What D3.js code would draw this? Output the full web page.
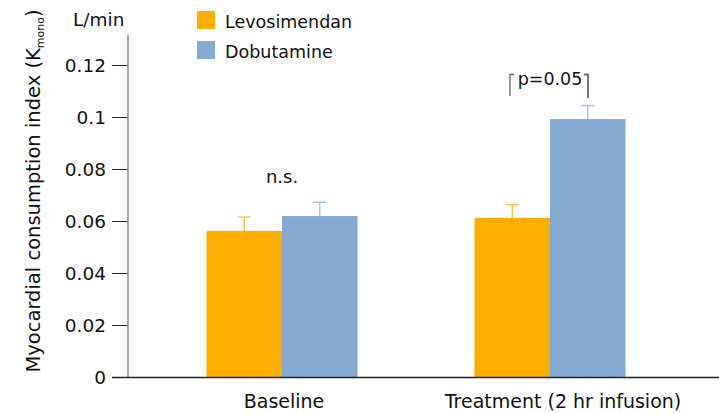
<!DOCTYPE html>
<html>
<head>
<meta charset="utf-8">
<script src="https://cdn.jsdelivr.net/npm/d3@7"></script>
<style>
  body { margin: 0; background: #fff; }
  svg text { font-family: "DejaVu Sans", sans-serif; fill: #111; }
</style>
</head>
<body>
<svg id="chart" width="719" height="413"></svg>
<script>
// Groups, treatments and measured values (mean and upper SD)
const groups = ["Baseline", "Treatment (2 hr infusion)"];
const seriesNames = ["Levosimendan", "Dobutamine"];
const levosimendan = [0.0562, 0.0612];
const dobutamine = [0.0619, 0.0992];
const levosimendanErr = [0.0053, 0.0051];
const dobutamineErr = [0.0053, 0.0052];
const yTicks = [0, 0.02, 0.04, 0.06, 0.08, 0.1, 0.12];
const yTickLabels = ["0", "0.02", "0.04", "0.06", "0.08", "0.1", "0.12"];
const colors = ["#FFAE00", "#82AAD2"];
const errColors = ["#FFC247", "#A3C2E3"];

const svg = d3.select("#chart");
const W = 719;

const y = d3.scaleLinear().domain([0, 0.12]).range([377, 65]);
const x0 = d3.scalePoint().domain(groups).range([282, 550]);
const groupWidth = 151;
const x1 = d3.scaleBand().domain(seriesNames).range([-groupWidth / 2, groupWidth / 2]);

const seriesVals = [levosimendan, dobutamine];
const seriesErr = [levosimendanErr, dobutamineErr];

// Bars with upper error whiskers
seriesNames.forEach((s, si) => {
  svg.append("g").selectAll("rect")
    .data(groups)
    .join("rect")
    .attr("x", g => x0(g) + x1(s))
    .attr("width", x1.bandwidth())
    .attr("y", (g, i) => y(seriesVals[si][i]))
    .attr("height", (g, i) => y(0) - y(seriesVals[si][i]))
    .attr("fill", colors[si]);

  const eg = svg.append("g").attr("stroke", errColors[si]).attr("stroke-width", 1.5);
  groups.forEach((g, i) => {
    const cx = x0(g) + x1(s) + x1.bandwidth() / 2;
    const top = y(seriesVals[si][i] + seriesErr[si][i]);
    eg.append("line").attr("x1", cx).attr("x2", cx)
      .attr("y1", y(seriesVals[si][i])).attr("y2", top);
    eg.append("line").attr("x1", cx - 6.5).attr("x2", cx + 6.5)
      .attr("y1", top).attr("y2", top);
  });
});

// Y axis
const yAxis = d3.axisLeft(y).tickValues(yTicks)
  .tickFormat((d, i) => yTickLabels[i]).tickSize(16).tickPadding(6);
const yg = svg.append("g").attr("transform", "translate(128,0)").call(yAxis);
yg.select(".domain").remove();
yg.selectAll(".tick line").attr("stroke", "#222").attr("stroke-width", 1);
yg.selectAll(".tick text").style("font-size", "18.5px").attr("dy", "0.36em");
svg.append("line").attr("x1", 128).attr("x2", 128).attr("y1", 35).attr("y2", 377)
  .attr("stroke", "#8a8a8a").attr("stroke-width", 1.5);

// X axis
svg.append("line").attr("x1", 112).attr("x2", W).attr("y1", 377.5).attr("y2", 377.5)
  .attr("stroke", "#222").attr("stroke-width", 1.3);
const labelShift = [2, 13];
svg.append("g").selectAll("text").data(groups).join("text")
  .attr("x", (g, i) => x0(g) + labelShift[i])
  .attr("y", 408)
  .attr("text-anchor", "middle")
  .style("font-size", "19px")
  .text(g => g);

// Y axis title with subscript
const yt = svg.append("text")
  .attr("transform", "translate(40,191) rotate(-90)")
  .attr("text-anchor", "middle")
  .style("font-size", "19.5px");
yt.append("tspan").text("Myocardial consumption index (K");
yt.append("tspan").attr("dy", 4).style("font-size", "11px").text("mono");
yt.append("tspan").attr("dy", -4).text(")");

svg.append("text").attr("x", 73).attr("y", 26).style("font-size", "18.5px").text("L/min");

// Legend
const lg = svg.append("g");
seriesNames.forEach((s, i) => {
  lg.append("rect").attr("x", 197).attr("y", 11 + i * 30).attr("width", 18).attr("height", 18)
    .attr("fill", colors[i]);
  lg.append("text").attr("x", 225).attr("y", 28 + i * 30).style("font-size", "17.5px").text(s);
});

// Significance annotations
const bCx = x0(groups[0]);
svg.append("text").attr("x", bCx).attr("y", 183).attr("text-anchor", "middle")
  .style("font-size", "18px").text("n.s.");

const tCx = x0(groups[1]);
svg.append("text").attr("x", tCx).attr("y", 85).attr("text-anchor", "middle")
  .style("font-size", "17.5px").text("p=0.05");
const br = svg.append("g").attr("stroke", "#666").attr("fill", "none").attr("stroke-width", 1.3);
br.append("path").attr("d", `M${tCx - 40},96 V74.5 H${tCx - 36}`);
br.append("path").attr("d", `M${tCx + 38},98 V74.5 H${tCx + 34}`).attr("stroke-width", 1.8);
</script>
</body>
</html>
